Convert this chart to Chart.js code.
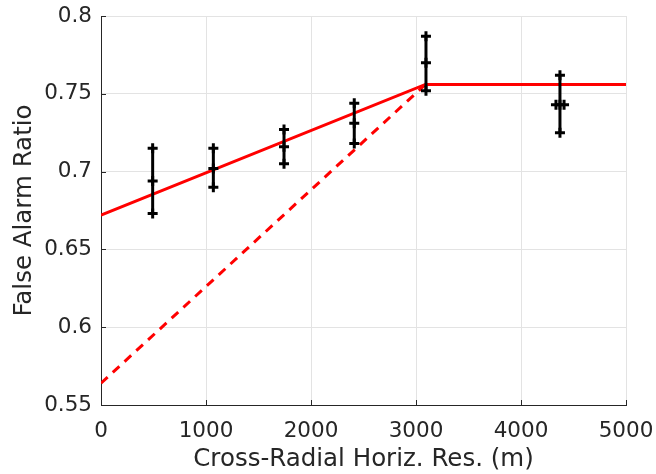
<!doctype html>
<html lang="en">
<head>
<meta charset="utf-8">
<title>False Alarm Ratio</title>
<script src="https://cdn.jsdelivr.net/npm/chart.js@4.4.1/dist/chart.umd.min.js"></script>
<style>
  html, body { margin: 0; padding: 0; background: #fff; }
  #wrap { width: 656px; height: 474px; }
</style>
</head>
<body>
<div id="wrap"><canvas id="farChart" width="656" height="474"></canvas></div>
<script>
// resolution (m) and false alarm ratio: low / mean / high of each bar
var resX    = [492, 1070, 1743, 2412, 3095, 4371];
var farLow  = [0.673, 0.690, 0.705, 0.718, 0.752, 0.725];
var farMean = [0.694, 0.702, 0.716, 0.731, 0.770, 0.743];
var farHigh = [0.715, 0.715, 0.727, 0.744, 0.787, 0.762];
// extra centre markers near the last bar
var extraX = [4333, 4410];
var extraY = [0.743, 0.743];
// fitted lines
var fitX   = [0, 3090, 5000];
var fitY   = [0.672, 0.756, 0.756];
var dashX  = [0, 3090];
var dashY  = [0.564, 0.756];
// axis ticks
var xTicks = [0, 1000, 2000, 3000, 4000, 5000];
var yTicks = [0.55, 0.6, 0.65, 0.7, 0.75, 0.8];

var textCol = '#262626';

function pts(xs, ys) {
  return xs.map(function(x, i) { return {x: x, y: ys[i]}; });
}

var datasets = [];
resX.forEach(function(x, i) {
  datasets.push({
    data: [{x: x, y: farLow[i]}, {x: x, y: farMean[i]}, {x: x, y: farHigh[i]}],
    showLine: true,
    borderColor: '#000',
    borderWidth: 3,
    pointStyle: 'cross',
    pointRadius: 5,
    pointBorderWidth: 3,
    pointBorderColor: '#000',
    order: 0
  });
});
datasets.push({
  data: pts(extraX, extraY),
  showLine: false,
  pointStyle: 'cross',
  pointRadius: 5,
  pointBorderWidth: 3,
  pointBorderColor: '#000',
  order: 0
});
datasets.push({
  data: pts(fitX, fitY),
  showLine: true,
  borderColor: '#ff0000',
  borderWidth: 3,
  pointRadius: 0,
  order: 1
});
datasets.push({
  data: pts(dashX, dashY),
  showLine: true,
  borderColor: '#ff0000',
  borderWidth: 3,
  borderDash: [9, 7],
  pointRadius: 0,
  order: 1
});

// small inward tick marks like the original figure
var innerTicks = {
  id: 'innerTicks',
  afterDraw: function(chart) {
    var ctx = chart.ctx, a = chart.chartArea;
    var xs = chart.scales.x, ys = chart.scales.y;
    ctx.save();
    ctx.strokeStyle = textCol;
    ctx.lineWidth = 1;
    ctx.beginPath();
    xTicks.forEach(function(v) {
      var px = Math.round(xs.getPixelForValue(v)) + 0.5;
      ctx.moveTo(px, a.bottom);
      ctx.lineTo(px, a.bottom - 5);
    });
    yTicks.forEach(function(v) {
      var py = Math.round(ys.getPixelForValue(v)) + 0.5;
      ctx.moveTo(a.left, py);
      ctx.lineTo(a.left + 5, py);
    });
    ctx.stroke();
    ctx.restore();
  }
};

var ctx = document.getElementById('farChart').getContext('2d');
var farChart = new Chart(ctx, {
  type: 'scatter',
  data: { datasets: datasets },
  options: {
    responsive: false,
    animation: false,
    layout: { padding: { left: 0, right: 30, top: 16, bottom: 0 } },
    plugins: {
      legend: { display: false },
      tooltip: { enabled: false }
    },
    scales: {
      x: {
        type: 'linear',
        min: 0,
        max: 5000,
        afterBuildTicks: function(s) { s.ticks = xTicks.map(function(v) { return {value: v}; }); },
        afterFit: function(s) { s.height = 69; s.paddingLeft = 0; s.paddingRight = 0; },
        grid: { color: '#e3e3e3', drawTicks: false },
        border: { color: textCol, width: 1 },
        ticks: {
          padding: 14,
          color: textCol,
          font: { family: 'DejaVu Sans', size: 21.5 },
          maxRotation: 0,
          callback: function(v) { return String(v); }
        },
        title: {
          display: true,
          text: 'Cross-Radial Horiz. Res. (m)',
          color: textCol,
          font: { family: 'DejaVu Sans', size: 24.5 },
          padding: { top: 0, bottom: 0 }
        }
      },
      y: {
        type: 'linear',
        min: 0.55,
        max: 0.8,
        afterBuildTicks: function(s) { s.ticks = yTicks.map(function(v) { return {value: v}; }); },
        afterFit: function(s) { s.width = 101; s.paddingTop = 0; s.paddingBottom = 0; },
        grid: { color: '#e3e3e3', drawTicks: false },
        border: { color: textCol, width: 1 },
        ticks: {
          padding: 9,
          color: textCol,
          font: { family: 'DejaVu Sans', size: 21.5 },
          callback: function(v) { return String(Math.round(v * 100) / 100); }
        },
        title: {
          display: true,
          text: 'False Alarm Ratio',
          color: textCol,
          font: { family: 'DejaVu Sans', size: 24.5 },
          padding: { top: 10, bottom: 0 }
        }
      }
    }
  },
  plugins: [innerTicks]
});
</script>
</body>
</html>
